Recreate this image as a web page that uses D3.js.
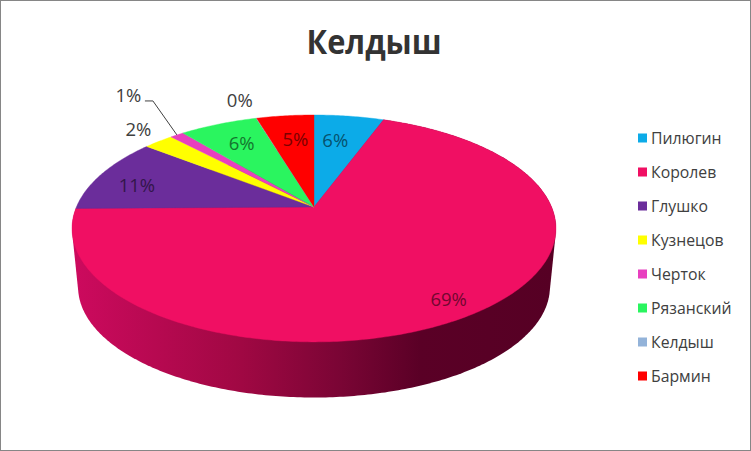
<!DOCTYPE html>
<html><head><meta charset="utf-8">
<script src="https://cdn.jsdelivr.net/npm/d3@7"></script>
<style>html,body{margin:0;padding:0;background:#fff}svg{display:block}</style>
</head><body><svg id="c" width="751" height="451"></svg>
<script>
const chartTitle = "Келдыш";
const names = ["Пилюгин","Королев","Глушко","Кузнецов","Черток","Рязанский","Келдыш","Бармин"];
const values = [5.6,69.2,10.8,2.4,1.1,6.26,0.04,4.6];
const colors = ["#0cabe8","#f00f63","#6b2d9b","#ffff00","#e83fbf","#2af55f","#93b3d9","#ff0000"];

const svg = d3.select("#c");
svg.append("rect").attr("x",0.5).attr("y",0.5).attr("width",750).attr("height",450)
  .attr("fill","#fff").attr("stroke","#868686");

// perspective projection of the unit disc
const cx=314, cy=207, A=237.6, Q=109.4, P=0.189, depth=59, shrink=0.975;
function project(t,r,bottom){
  const u=r*Math.sin(t), v=-r*Math.cos(t), w=1-P*v, s=bottom?shrink:1;
  return [cx+s*A*u/w, cy+(bottom?depth:0)+s*Q*v/w];
}
const pie=d3.pie().sort(null).value(d=>d);
const arcs=pie(values);
const total=d3.sum(values);
const line=d3.line();
const sample=(a,b,n=Math.max(2,Math.ceil((b-a)*80)))=>d3.range(n+1).map(i=>a+(b-a)*i/n);

// side wall gradient
const defs=svg.append("defs");
const g=defs.append("linearGradient").attr("id","wall").attr("gradientUnits","userSpaceOnUse")
  .attr("x1",72).attr("x2",556).attr("y1",0).attr("y2",0);
[[0,"#cd0a5e"],[0.35,"#a00843"],[0.55,"#7b0535"],[0.72,"#5a0026"],[1,"#560024"]]
  .forEach(s=>g.append("stop").attr("offset",s[0]).attr("stop-color",s[1]));

const biggest=arcs[d3.greatestIndex(values)];
const ts=sample(biggest.startAngle,biggest.endAngle);
const hull=d3.polygonHull(ts.map(t=>project(t,1,false)).concat(ts.map(t=>project(t,1,true))));
svg.append("path").attr("fill","url(#wall)").attr("d",line(hull)+"Z");

// top face
svg.append("g").selectAll("path").data(arcs).join("path")
  .attr("fill",(d,i)=>colors[i]).attr("stroke",(d,i)=>colors[i]).attr("stroke-width",0.4)
  .attr("d",d=>line([[cx,cy]].concat(sample(d.startAngle,d.endAngle).map(t=>project(t,1,false))))+"Z");

// labels
const nudges=[[-4.5,-1],[27,21],[-26,1],[-63,-31.5],[-86,-60],[-2.5,-4],[-32,-42],[2.5,-1]];
const fmt=d3.format(".0%");
svg.append("g").selectAll("text").data(arcs).join("text")
  .attr("font-family","'Open Sans',sans-serif").attr("font-size",18.5).attr("text-anchor","middle")
  .attr("dominant-baseline","central")
  .attr("fill",(d,i)=>d.value<3?"#404040":d3.interpolateRgb(colors[i],"#000")(0.52))
  .attr("x",(d,i)=>project((d.startAngle+d.endAngle)/2,0.7,false)[0]+nudges[i][0])
  .attr("y",(d,i)=>project((d.startAngle+d.endAngle)/2,0.7,false)[1]+nudges[i][1])
  .text(d=>fmt(d.value/total));

// leader line for the small slice
const li=names.indexOf("Черток"), la=arcs[li];
const lm=(la.startAngle+la.endAngle)/2;
const end=project(lm,1,false);
svg.append("path").attr("fill","none").attr("stroke","#404040").attr("stroke-width",1)
  .attr("d",line([[end[0]-32,end[1]-34],[end[0]-24,end[1]-34],end]));

// title
svg.append("text").attr("x",374).attr("y",54).attr("text-anchor","middle")
  .attr("font-family","'Open Sans',sans-serif").attr("font-weight",700).attr("font-size",34)
  .attr("textLength",135).attr("lengthAdjust","spacingAndGlyphs")
  .attr("fill","#333").text(chartTitle);

// legend
const ly=d3.scalePoint().domain(names).range([138,376]);
const lg=svg.append("g").selectAll("g").data(names).join("g")
  .attr("transform",d=>`translate(638,${ly(d)})`);
lg.append("rect").attr("x",0).attr("y",-4.5).attr("width",9).attr("height",9)
  .attr("fill",(d,i)=>colors[i]);
lg.append("text").attr("x",13).attr("y",0).attr("dominant-baseline","central")
  .attr("font-family","'Open Sans',sans-serif").attr("font-size",15.8).attr("fill","#404040")
  .text(d=>d);
</script></body></html>
